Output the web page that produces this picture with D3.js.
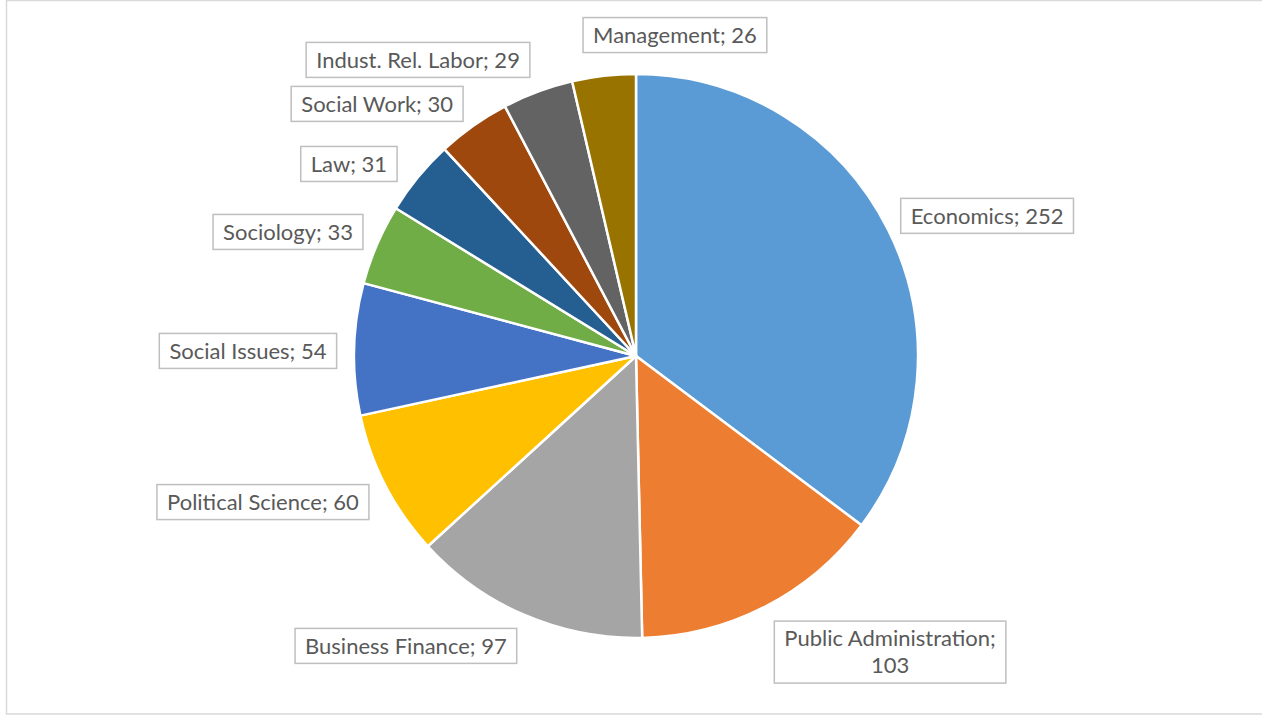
<!DOCTYPE html>
<html>
<head>
<meta charset="utf-8">
<script src="https://cdn.jsdelivr.net/npm/d3@7"></script>
<style>
  html, body { margin: 0; padding: 0; background: #fff; }
  svg { display: block; }
</style>
</head>
<body>
<svg id="chart" width="1262" height="716"></svg>
<script>
// Publications by subject field
const categories = ["Economics", "Public Administration", "Business Finance", "Political Science",
  "Social Issues", "Sociology", "Law", "Social Work", "Indust. Rel. Labor", "Management"];
const counts = [252, 103, 97, 60, 54, 33, 31, 30, 29, 26];
const colors = ["#5B9BD5", "#ED7D31", "#A5A5A5", "#FFC000", "#4472C4", "#70AD47",
  "#255E91", "#9E480E", "#636363", "#997300"];
// label box centres, relative to the pie centre, as fractions of the radius
const labelOffsets = [[1.245, -0.497], [0.901, 1.050], [-0.816, 1.028], [-1.323, 0.518],
  [-1.376, -0.018], [-1.234, -0.440], [-1.018, -0.681], [-0.918, -0.894], [-0.773, -1.050], [0.138, -1.138]];
// labels that break onto two lines
const wrapped = { "Public Administration": true };

const W = 1262, H = 716;
const cx = 636, cy = 356, R = 282;
const svg = d3.select("#chart");

// chart area frame
svg.append("rect").attr("x", 6.5).attr("y", 0.5).attr("width", W).attr("height", 713.5)
  .attr("fill", "#fff").attr("stroke", "#d9d9d9").attr("stroke-width", 1.5);

const data = categories.map((c, i) => ({ name: c, value: counts[i], color: colors[i], off: labelOffsets[i] }));

const pie = d3.pie().value(d => d.value).sort(null);
const arc = d3.arc().innerRadius(0).outerRadius(R);

const g = svg.append("g").attr("transform", `translate(${cx},${cy})`);
g.selectAll("path").data(pie(data)).join("path")
  .attr("d", arc)
  .attr("fill", d => d.data.color)
  .attr("stroke", "#fff")
  .attr("stroke-width", 2.5)
  .attr("stroke-linejoin", "round");

// data labels: name; value in a bordered box
const fontSize = 22, lineH = 27, padX = 10, padY = 6;
const labels = g.selectAll("g.lbl").data(data).join("g").attr("class", "lbl");
labels.each(function (d) {
  const sel = d3.select(this);
  const lines = wrapped[d.name] ? [d.name + ";", String(d.value)] : [d.name + "; " + d.value];
  const x0 = d.off[0] * R, y0 = d.off[1] * R;
  const box = sel.append("rect");
  const txt = sel.append("text")
    .attr("font-family", "Lato, 'Open Sans', sans-serif")
    .attr("font-size", fontSize)
    .attr("fill", "#595959")
    .attr("text-anchor", "middle");
  const top = y0 - (lines.length * lineH) / 2;
  lines.forEach((l, k) => {
    txt.append("tspan").attr("x", x0).attr("y", top + k * lineH + lineH / 2)
      .attr("dy", "0.35em").text(l);
  });
  const bb = txt.node().getBBox();
  const w = bb.width + 2 * padX, h = lines.length * lineH + 2 * padY - 4;
  box.attr("x", x0 - w / 2).attr("y", y0 - h / 2).attr("width", w).attr("height", h)
    .attr("fill", "#fff").attr("stroke", "#bfbfbf").attr("stroke-width", 1.5);
});
</script>
</body>
</html>
